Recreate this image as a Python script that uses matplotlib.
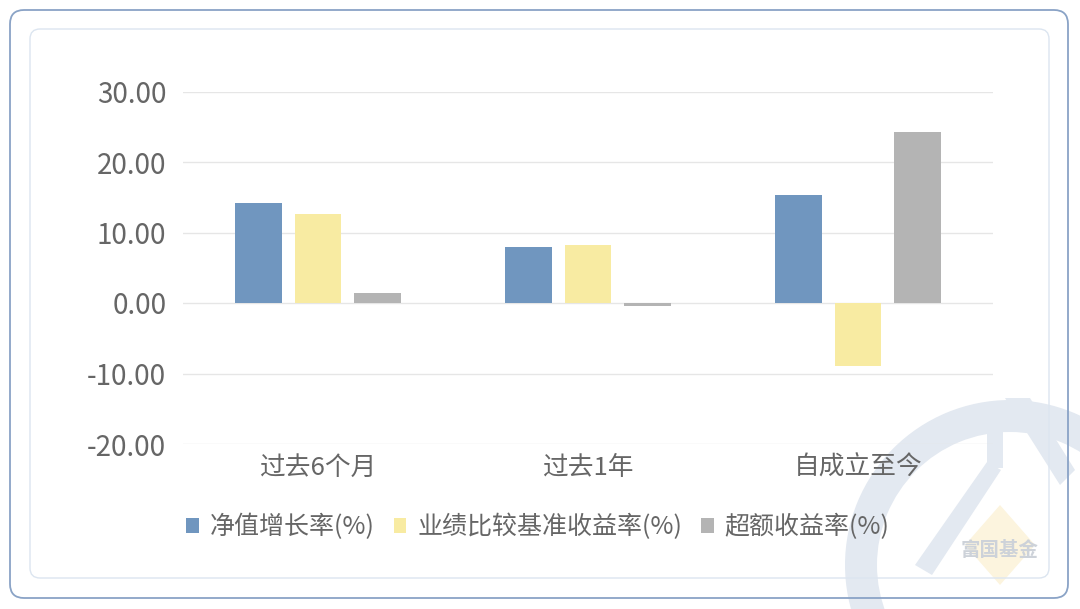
import matplotlib
matplotlib.use("Agg")
import matplotlib.pyplot as plt
from matplotlib.patches import FancyBboxPatch, Wedge, Polygon, Patch
import numpy as np

plt.rcParams['font.family'] = ['Noto Sans CJK SC', 'DejaVu Sans']

categories = ["过去6个月", "过去1年", "自成立至今"]
series_names = ["净值增长率(%)", "业绩比较基准收益率(%)", "超额收益率(%)"]
nav_growth = [14.14, 7.88, 15.36]
benchmark = [12.60, 8.25, -8.96]
excess = [1.42, -0.43, 24.30]
yticks = [-20, -10, 0, 10, 20, 30]

colors = ["#7096BF", "#F8EBA2", "#B4B4B4"]
text_color = "#666666"

W, H = 1080, 609
fig = plt.figure(figsize=(W / 100, H / 100), dpi=100)
fig.patch.set_facecolor("white")

# background / decoration axes in pixel coordinates
bg = fig.add_axes([0, 0, 1, 1], zorder=0)
bg.set_xlim(0, W)
bg.set_ylim(H, 0)
bg.axis("off")

# watermark logo (faint)
wm = "#E3E9F1"
bg.add_patch(Polygon([[1000, 505], [1035, 545], [1000, 585], [965, 545]],
                     closed=True, facecolor="#FCF4DE", edgecolor="none"))
bg.add_patch(Wedge((1010, 565), 165, 0, 360, width=32, facecolor=wm, edgecolor="none"))
bg.add_patch(Polygon([[987, 402], [1003, 402], [1003, 468], [987, 468]],
                     closed=True, facecolor=wm, edgecolor="none"))
bg.add_patch(Polygon([[987, 462], [1001, 470], [932, 575], [915, 565]],
                     closed=True, facecolor=wm, edgecolor="none"))
bg.add_patch(Polygon([[1005, 398], [1030, 398], [1075, 470], [1060, 485]],
                     closed=True, facecolor=wm, edgecolor="none"))
bg.text(1000, 551, "富国基金", ha="center", va="center", fontsize=14,
        fontweight="bold", color="#CDD2D9")

# frames
bg.add_patch(FancyBboxPatch((10, 10), 1058, 588, boxstyle="round,pad=0,rounding_size=14",
                            facecolor="none", edgecolor="#8AA3C6", linewidth=1.3))
bg.add_patch(FancyBboxPatch((30, 29), 1019, 549, boxstyle="round,pad=0,rounding_size=10",
                            facecolor="none", edgecolor="#DCE5F0", linewidth=1.0))

# main chart axes
left, right, top, bottom = 183, 993, 91.5, 444
ax = fig.add_axes([left / W, 1 - bottom / H, (right - left) / W, (bottom - top) / H], zorder=1)
ax.patch.set_alpha(0)

x = np.arange(len(categories))
width = 0.174
step = 0.222
for i, (vals, c) in enumerate(zip([nav_growth, benchmark, excess], colors)):
    ax.bar(x + (i - 1) * step, vals, width=width, color=c, zorder=3, label=series_names[i])

ax.set_xlim(-0.5, len(categories) - 0.5)
ax.set_ylim(min(yticks), max(yticks))
ax.set_yticks(yticks)
ax.set_yticklabels([f"{v:.2f}" for v in yticks], fontsize=20, color=text_color)
ax.set_xticks(x)
ax.set_xticklabels(categories, fontsize=18.5, color=text_color)
ax.tick_params(axis="both", length=0)
ax.tick_params(axis="y", pad=12)
ax.tick_params(axis="x", pad=8)
ax.grid(axis="y", color="#E6E6E6", linewidth=1.0, zorder=0)
ax.set_axisbelow(True)
for s in ax.spines.values():
    s.set_visible(False)

handles = [Patch(facecolor=c, edgecolor="none") for c in colors]
leg = fig.legend(handles, series_names, loc="center", bbox_to_anchor=(538 / W, 1 - 527 / H),
                 ncol=3, frameon=False, prop={"size": 18},
                 handlelength=0.5, handleheight=0.55,
                 handletextpad=0.45, columnspacing=0.75, labelcolor=text_color)

fig.savefig("out.png", dpi=100)
